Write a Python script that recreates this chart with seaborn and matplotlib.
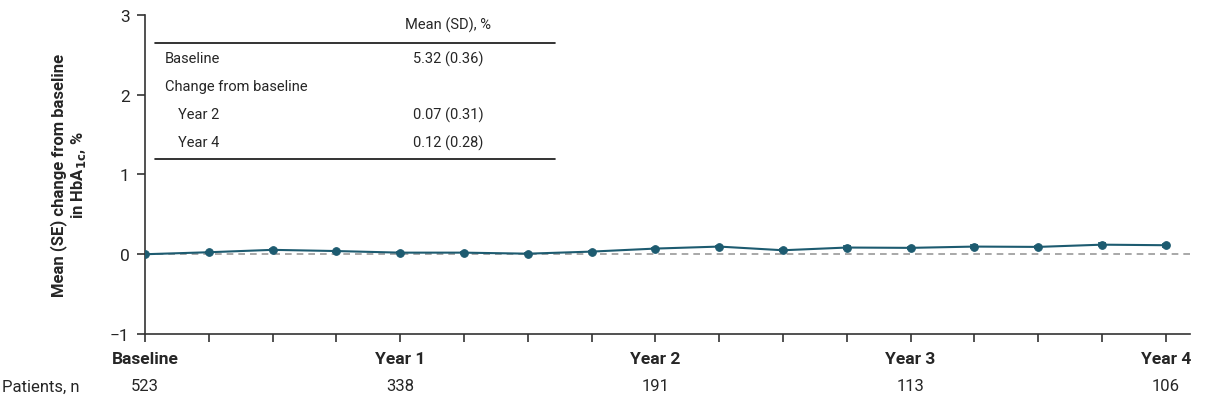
import pandas as pd
import seaborn as sns
import matplotlib.pyplot as plt

# Data (quarterly visits, 0 = baseline)
visit = list(range(17))
mean_change = [0.0, 0.025, 0.055, 0.04, 0.02, 0.02, 0.007, 0.033, 0.071, 0.096,
               0.05, 0.084, 0.08, 0.096, 0.092, 0.12, 0.113]
se_change = [0.0, 0.005, 0.006, 0.006, 0.006, 0.006, 0.007, 0.008, 0.01, 0.01,
             0.012, 0.018, 0.014, 0.015, 0.016, 0.017, 0.018]
tick_labels = ["Baseline", "Year 1", "Year 2", "Year 3", "Year 4"]
tick_visits = [0, 4, 8, 12, 16]
patients_n = [523, 338, 191, 113, 106]

table_rows = ["Baseline", "Change from baseline", "Year 2", "Year 4"]
table_vals = ["5.32 (0.36)", "", "0.07 (0.31)", "0.12 (0.28)"]
table_indent = [False, False, True, True]

df = pd.DataFrame({"Visit": visit, "Change": mean_change, "SE": se_change})

sns.set_theme(style="white")
plt.rcParams["font.family"] = ["Roboto", "DejaVu Sans"]

color = "#1d5b70"
fig = plt.figure(figsize=(12.06, 4.02), dpi=100)
ax = fig.add_axes([0.1202, 0.1667, 0.8665, 0.7935])

ax.axhline(0, color="#999999", lw=1.2, ls=(0, (4, 3)), zorder=1)
ax.errorbar(df["Visit"], df["Change"], yerr=df["SE"], fmt="none",
            ecolor=color, elinewidth=1.2, capsize=3, capthick=1.2, zorder=2)
sns.lineplot(data=df, x="Visit", y="Change", ax=ax, color=color, lw=1.5,
             marker="o", markersize=5.5, markeredgecolor=color, zorder=3)

ax.set_xlim(0, 16.38)
ax.set_ylim(-1, 3)
ax.set_yticks([-1, 0, 1, 2, 3])
ax.set_yticklabels(["\u22121", "0", "1", "2", "3"], fontsize=12.5)
ax.set_xticks(visit)
labels = [""] * len(visit)
for v, t in zip(tick_visits, tick_labels):
    labels[v] = t
ax.set_xticklabels(labels, fontsize=12.5, fontweight="bold")
ax.tick_params(axis="both", direction="out", length=6, width=1.2, color="#333333",
               bottom=True, left=True, pad=5)
ax.tick_params(axis="x", pad=6)
sns.despine(ax=ax)
for s in ["left", "bottom"]:
    ax.spines[s].set_color("#333333")
    ax.spines[s].set_linewidth(1.2)
ax.set_xlabel("")
ax.set_ylabel("Mean (SE) change from baseline\nin HbA$_{\\mathbf{1c}}$, %", fontsize=12,
              fontweight="bold", labelpad=16, linespacing=1.15)

# Patients row
trans = ax.get_xaxis_transform()
fig.text(2 / 1206, 1 - 387 / 402, "Patients, n", fontsize=12, va="center", ha="left")
for v, n in zip(tick_visits, patients_n):
    ax.text(v, -52 / 319, str(n), transform=trans, fontsize=12, ha="center", va="center",
            clip_on=False)

# Inset summary table
def fy(py):
    return 1 - py / 402

def fx(px):
    return px / 1206

fig.add_artist(plt.Line2D([fx(155), fx(555)], [fy(44), fy(44)], color="#111111", lw=1.2))
fig.add_artist(plt.Line2D([fx(155), fx(555)], [fy(160), fy(160)], color="#111111", lw=1.2))
fig.text(fx(448), fy(25), "Mean (SD), %", fontsize=10.5, ha="center", va="center")
row_y = [59, 87, 115, 143]
for name, val, ind, py in zip(table_rows, table_vals, table_indent, row_y):
    fig.text(fx(178 if ind else 165), fy(py), name, fontsize=10.5, ha="left", va="center")
    if val:
        fig.text(fx(448), fy(py), val, fontsize=10.5, ha="center", va="center")

fig.savefig("out.png", dpi=100)
